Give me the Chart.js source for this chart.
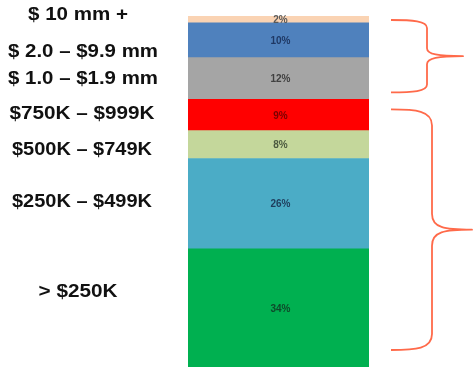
<!DOCTYPE html>
<html>
<head>
<meta charset="utf-8">
<script src="https://cdn.jsdelivr.net/npm/chart.js@4/dist/chart.umd.min.js"></script>
<style>
  html, body { margin: 0; padding: 0; background: #ffffff; }
  #wrap { width: 473px; height: 369px; position: relative; }
</style>
</head>
<body>
<div id="wrap"><canvas id="c" width="473" height="369"></canvas></div>
<script>
// Segments from bottom to top
const categories = ['> $250K', '$250K \u2013 $499K', '$500K \u2013 $749K', '$750K \u2013 $999K', '$ 1.0 \u2013 $1.9 mm', '$ 2.0 \u2013 $9.9 mm', '$ 10 mm +'];
const shares = [34, 26, 8, 9, 12, 10, 2];
const shareLabels = ['34%', '26%', '8%', '9%', '12%', '10%', '2%'];
// Brace groups: [from segment index, to segment index]
const braceGroups = [[4, 6], [0, 3]];

const segColors = ['#00B050', '#4BACC6', '#C4D79B', '#FF0000', '#A5A5A5', '#4F81BD', '#FAD3B3'];
const textColors = ['#0D4A2A', '#1F3D5C', '#4C5A40', '#7A0000', '#404040', '#1F3864', '#595959'];

// left label layout (center x, center y, target width) in px
const labelLayout = [
  { cx: 78, cy: 292, w: 79 },
  { cx: 82, cy: 202, w: 140 },
  { cx: 82, cy: 150, w: 140 },
  { cx: 82, cy: 114, w: 145 },
  { cx: 83, cy: 79, w: 150 },
  { cx: 83, cy: 52, w: 150 },
  { cx: 78, cy: 15, w: 100 }
];

const total = shares.reduce((a, b) => a + b, 0);

const labelsPlugin = {
  id: 'sideLabels',
  afterDraw(chart) {
    const ctx = chart.ctx;
    ctx.save();
    ctx.fillStyle = '#111111';
    ctx.font = 'bold 18px "Liberation Sans", Arial, sans-serif';
    ctx.textAlign = 'center';
    ctx.textBaseline = 'middle';
    categories.forEach((t, i) => {
      const L = labelLayout[i];
      const m = ctx.measureText(t).width;
      const s = L.w / m;
      ctx.save();
      ctx.translate(L.cx, L.cy);
      ctx.scale(s, 1);
      ctx.fillText(t, 0, 0);
      ctx.restore();
    });
    ctx.restore();
  }
};

const valueLabelsPlugin = {
  id: 'valueLabels',
  afterDatasetsDraw(chart) {
    const ctx = chart.ctx;
    ctx.save();
    ctx.font = 'bold 10px "Liberation Sans", Arial, sans-serif';
    ctx.textAlign = 'center';
    ctx.textBaseline = 'middle';
    chart.data.datasets.forEach((ds, i) => {
      const el = chart.getDatasetMeta(i).data[0];
      const yc = (el.y + el.base) / 2;
      ctx.fillStyle = textColors[i];
      ctx.fillText(shareLabels[i], el.x + 2, yc + 1);
    });
    ctx.restore();
  }
};

function drawBrace(ctx, xL, xV, xTip, yTop, yBot, r) {
  const yMid = (yTop + yBot) / 2;
  ctx.beginPath();
  ctx.moveTo(xL, yTop);
  ctx.bezierCurveTo(xL + (xV - xL) * 0.6, yTop, xV, yTop + 1, xV, yTop + r);
  ctx.lineTo(xV, yMid - r);
  ctx.bezierCurveTo(xV, yMid - 2, xV + (xTip - xV) * 0.3, yMid, xTip, yMid);
  ctx.bezierCurveTo(xV + (xTip - xV) * 0.3, yMid, xV, yMid + 2, xV, yMid + r);
  ctx.lineTo(xV, yBot - r);
  ctx.bezierCurveTo(xV, yBot - 1, xL + (xV - xL) * 0.6, yBot, xL, yBot);
  ctx.stroke();
}

const bracePlugin = {
  id: 'braces',
  afterDraw(chart) {
    const ctx = chart.ctx;
    const y = chart.scales.y;
    const cum = [0];
    shares.forEach((v, i) => cum.push(cum[i] + v));
    ctx.save();
    ctx.strokeStyle = '#FF6A4A';
    ctx.lineWidth = 1.8;
    ctx.lineJoin = 'round';
    // top group
    let g = braceGroups[0];
    let yT = y.getPixelForValue(cum[g[1] + 1]) + 4;
    let yB = y.getPixelForValue(cum[g[0]]) - 7;
    drawBrace(ctx, 391, 427, 463, yT, yB, 8);
    // bottom group
    g = braceGroups[1];
    yT = y.getPixelForValue(cum[g[1] + 1]) + 10;
    yB = y.getPixelForValue(cum[g[0]]) - 17;
    drawBrace(ctx, 391, 432, 472, yT, yB, 16);
    ctx.restore();
  }
};

new Chart(document.getElementById('c'), {
  type: 'bar',
  data: {
    labels: [''],
    datasets: categories.map((c, i) => ({
      label: c,
      data: [shares[i]],
      backgroundColor: segColors[i],
      borderWidth: 0,
      barPercentage: 1,
      categoryPercentage: 1
    }))
  },
  options: {
    responsive: false,
    animation: false,
    devicePixelRatio: 1,
    layout: { padding: { left: 188, right: 104, top: 16, bottom: 2 } },
    scales: {
      x: { stacked: true, display: false },
      y: { stacked: true, display: false, min: 0, max: total }
    },
    plugins: {
      legend: { display: false },
      tooltip: { enabled: false }
    }
  },
  plugins: [valueLabelsPlugin, labelsPlugin, bracePlugin]
});
</script>
</body>
</html>
